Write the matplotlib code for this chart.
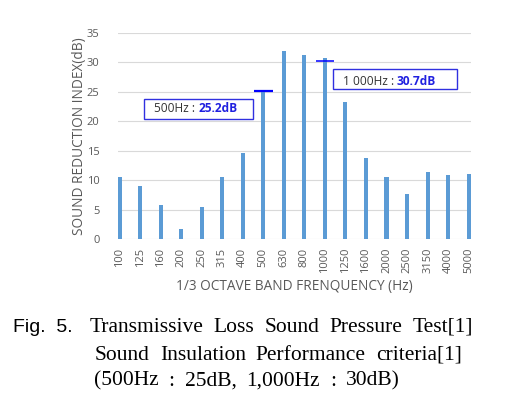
import matplotlib
matplotlib.use("Agg")
import matplotlib.pyplot as plt
from matplotlib.patches import Rectangle

freqs = ["100", "125", "160", "200", "250", "315", "400", "500", "630", "800",
         "1000", "1250", "1600", "2000", "2500", "3150", "4000", "5000"]
values = [10.6, 9.1, 5.8, 1.7, 5.5, 10.6, 14.6, 25.2, 31.9, 31.2,
          30.7, 23.3, 13.8, 10.6, 7.6, 11.4, 10.9, 11.0]
criteria_freqs = ["500", "1000"]
criteria_levels = [25.1, 30.25]
yticks = [0, 5, 10, 15, 20, 25, 30, 35]

W, H = 513, 408
fig = plt.figure(figsize=(W / 100, H / 100), dpi=100)
L, R, T, B = 117.5, 470.7, 32.7, 239.3
ax = fig.add_axes([L / W, 1 - B / H, (R - L) / W, (B - T) / H])

font = "Open Sans"
bw = 0.2
x = list(range(len(freqs)))
ax.bar(x, values, width=bw, color="#5B9BD5", zorder=3)
ax.set_xlim(-bw / 2, len(freqs) - 1 + bw / 2)
ax.set_ylim(0, 35)
ax.set_yticks(yticks)
ax.set_xticks(x)
ax.set_xticklabels(freqs, rotation=90, fontfamily=font, fontsize=8, color="#595959")
ax.set_yticklabels([str(v) for v in yticks], fontfamily=font, fontsize=8, color="#595959")
ax.tick_params(axis="both", length=0)
ax.tick_params(axis="x", pad=6)
ax.tick_params(axis="y", pad=13)
ax.grid(axis="y", color="#D9D9D9", linewidth=0.8, zorder=0)
for s in ax.spines.values():
    s.set_visible(False)

lws = [1.6, 1.1]
for f, lvl, lw in zip(criteria_freqs, criteria_levels, lws):
    i = freqs.index(f)
    ax.hlines(lvl, i - 0.45, i + 0.45, color="#0000FF", linewidth=lw, zorder=4)

ax.set_ylabel("SOUND REDUCTION INDEX(dB)", fontfamily=font, fontsize=9.8, color="#595959", labelpad=0)
ax.set_xlabel("1/3 OCTAVE BAND FRENQUENCY (Hz)", fontfamily=font, fontsize=9.8, color="#595959", labelpad=4)

# annotation boxes (axes fraction)
boxes = [((0.0759, 0.5837, 0.3086, 0.0953), (0.104, 0.6307), "500Hz : ", "25.2dB"),
         ((0.611, 0.7275, 0.3494, 0.0968), (0.6376, 0.763), "1 000Hz : ", "30.7dB")]
for (bx, by, bwid, bh), (tx, ty), t1, t2 in boxes:
    ax.add_patch(Rectangle((bx, by), bwid, bh, transform=ax.transAxes, facecolor="white",
                           edgecolor="#3030E0", linewidth=1.0, zorder=5))
    txt = ax.text(tx, ty, t1, transform=ax.transAxes, ha="left", va="center",
                  fontfamily=font, fontsize=8.6, color="#333333", zorder=6)
    ax.annotate(t2, xy=(1, 0.5), xycoords=txt, ha="left", va="center",
                fontfamily=font, fontsize=8.6, fontweight="bold", color="#2020E0", zorder=6)

# caption
fig.text(13 / W, 1 - 327 / H, "Fig.  5.", fontfamily="Liberation Sans", fontsize=14,
         ha="left", va="center", color="black")
serif = "Liberation Serif"
caption_lines = [
    (90, 327, "Transmissive Loss Sound Pressure Test[1]"),
    (95, 355, "Sound Insulation Performance criteria[1]"),
    (94, 381, "(500Hz : 25dB, 1,000Hz : 30dB)"),
]
renderer = fig.canvas.get_renderer()
gap = 10.0
for x0, y0, line in caption_lines:
    cx = x0
    for word in line.split(" "):
        t = fig.text(cx / W, 1 - y0 / H, word, fontfamily=serif, fontsize=15.5,
                     ha="left", va="center", color="black")
        cx += t.get_window_extent(renderer).width + gap

fig.savefig("out.png", dpi=100)
